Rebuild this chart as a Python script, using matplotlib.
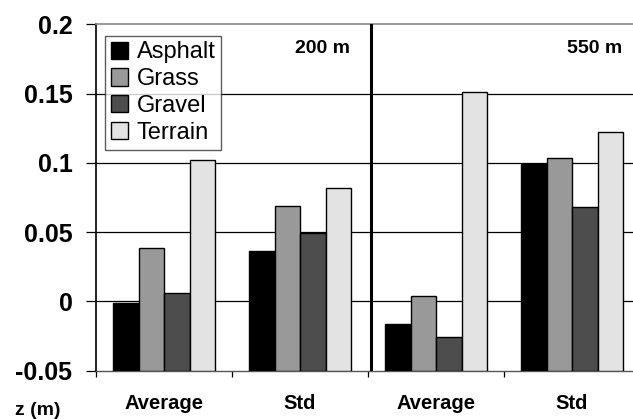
import numpy as np
import matplotlib.pyplot as plt

plt.rcParams['font.family'] = ['Liberation Sans', 'DejaVu Sans']

# data
categories = ['Average', 'Std', 'Average', 'Std']
surfaces = ['Asphalt', 'Grass', 'Gravel', 'Terrain']
asphalt = [-0.0012, 0.0363, -0.0164, 0.0995]
grass   = [0.0383, 0.0689, 0.0038, 0.1033]
gravel  = [0.0063, 0.0496, -0.0258, 0.0681]
terrain = [0.1024, 0.0821, 0.1512, 0.1221]
series = [asphalt, grass, gravel, terrain]
colors = ['#000000', '#999999', '#4d4d4d', '#e3e3e3']
height_labels = ['200 m', '550 m']
yticks = [-0.05, 0, 0.05, 0.1, 0.15, 0.2]
ytick_labels = ['-0.05', '0', '0.05', '0.1', '0.15', '0.2']

W, H = 633, 419
fig = plt.figure(figsize=(W / 100, H / 100), dpi=100)
ax = fig.add_axes([96 / W, 1 - 370.7 / H, (640 - 96) / W, (370.7 - 24.5) / H])

ymin, ymax = -0.05, 0.2
x = np.arange(len(categories)) + 0.5
bw = 0.1875
for i, (vals, col, name) in enumerate(zip(series, colors, surfaces)):
    vals = np.array(vals)
    ax.bar(x + (i - 1.5) * bw, vals - ymin, bottom=ymin, width=bw,
           color=col, edgecolor='black', linewidth=1.0, label=name, zorder=3)

# grid lines
for yv in [0, 0.05, 0.1, 0.15]:
    ax.axhline(yv, color='black', linewidth=0.9, zorder=1)

ax.axvline(2.02, color='black', linewidth=2.2, zorder=4)

ax.set_xlim(0, 4)
ax.set_ylim(ymin, ymax)

ax.spines['right'].set_visible(False)
ax.spines['top'].set_color('#888888')
ax.spines['top'].set_linewidth(1.2)
ax.spines['bottom'].set_color('#555555')
ax.spines['bottom'].set_linewidth(1.0)
ax.spines['left'].set_color('black')
ax.spines['left'].set_linewidth(1.2)

ax.set_yticks(yticks)
ax.set_yticklabels(ytick_labels, fontsize=18, fontweight='bold')
ax.tick_params(axis='y', length=7, width=0.9, pad=10)

ax.set_xticks([0, 1, 2, 3])
ax.set_xticklabels([])
ax.tick_params(axis='x', which='major', length=4, width=0.9, direction='out')
ax.set_xticks(x, minor=True)
ax.set_xticklabels(categories, minor=True, fontsize=14.5, fontweight='bold')
ax.tick_params(axis='x', which='minor', length=0, pad=17)

ax.text(1.87, 0.183, height_labels[0], fontsize=14, fontweight='bold',
        ha='right', va='center')
ax.text(3.87, 0.183, height_labels[1], fontsize=14, fontweight='bold',
        ha='right', va='center')

leg = ax.legend(loc='upper left', bbox_to_anchor=(0.016, 0.968), fontsize=17,
                frameon=True, fancybox=False, edgecolor='#333333',
                handlelength=0.75, handleheight=0.75, handletextpad=0.35,
                borderpad=0.25, labelspacing=0.2, borderaxespad=0.0)
leg.get_frame().set_linewidth(1.0)
leg.set_zorder(5)

fig.text(15 / W, 1 - 410 / H, 'z (m)', fontsize=14, fontweight='bold',
         ha='left', va='center')

fig.savefig('out.png', dpi=100)
